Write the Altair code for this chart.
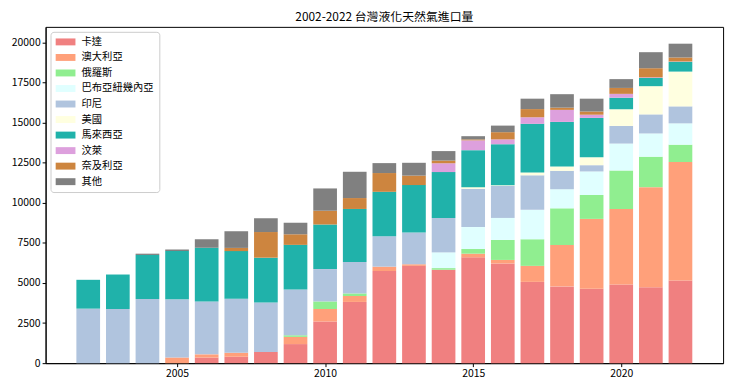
import altair as alt
import pandas as pd

years = list(range(2002, 2023))
categories = ["卡達", "澳大利亞", "俄羅斯", "巴布亞紐幾內亞", "印尼", "美國", "馬來西亞", "汶萊", "奈及利亞", "其他"]
colors = ["#F08080", "#FFA07A", "#90EE90", "#E0FFFF", "#B0C4DE", "#FFFFE0", "#20B2AA", "#DDA0DD", "#CD853F", "#808080"]

qatar     = [0, 0, 0, 0, 350, 400, 700, 1190, 2600, 3820, 5750, 6070, 5830, 6600, 6220, 5070, 4790, 4640, 4910, 4740, 5150]
australia = [0, 0, 0, 350, 200, 250, 0, 450, 780, 370, 270, 100, 0, 230, 220, 1000, 2580, 4360, 4700, 6240, 7400]
russia    = [0, 0, 0, 0, 0, 0, 0, 100, 470, 160, 0, 0, 100, 290, 1250, 1660, 2290, 1490, 2410, 1900, 1080]
png       = [0, 0, 0, 0, 0, 0, 0, 0, 0, 0, 0, 0, 980, 1370, 1370, 1840, 1190, 1470, 1680, 1450, 1330]
indonesia = [3400, 3380, 4000, 3640, 3300, 3370, 3090, 2860, 2020, 1960, 1900, 1980, 2150, 2390, 2000, 2150, 1150, 390, 1100, 1190, 1060]
usa       = [0, 0, 0, 0, 0, 0, 0, 0, 0, 0, 0, 0, 0, 100, 40, 180, 270, 490, 1040, 1760, 2170]
malaysia  = [1800, 2150, 2750, 3000, 3350, 2970, 2790, 2780, 2780, 3310, 2770, 2960, 2860, 2310, 2560, 3030, 2780, 2460, 720, 510, 610]
brunei    = [0, 0, 0, 0, 0, 0, 0, 0, 0, 0, 0, 0, 550, 610, 300, 410, 750, 200, 240, 40, 20]
nigeria   = [0, 0, 0, 0, 0, 200, 1600, 660, 860, 680, 1170, 590, 170, 60, 450, 510, 140, 200, 370, 570, 250]
others    = [0, 0, 80, 100, 530, 1040, 860, 720, 1390, 1640, 620, 800, 590, 200, 410, 650, 840, 800, 550, 1000, 860]

series = [qatar, australia, russia, png, indonesia, usa, malaysia, brunei, nigeria, others]

rows = []
for ci, (cat, vals) in enumerate(zip(categories, series)):
    for y, v in zip(years, vals):
        rows.append({"year": y, "country": cat, "value": v, "order": ci})
df = pd.DataFrame(rows)

FONT = "Noto Sans CJK TC"

bars = (
    alt.Chart(df)
    .transform_stack(stack="value", as_=["y0", "y1"], groupby=["year"], sort=[alt.SortField("order", order="ascending")])
    .transform_calculate(x0="datum.year - 0.4", x1="datum.year + 0.4")
    .mark_bar()
    .encode(
        x=alt.X("x0:Q", title=None,
                scale=alt.Scale(domain=[2000.56, 2023.44], nice=False, zero=False),
                axis=alt.Axis(values=[2005, 2010, 2015, 2020], format="d", grid=False)),
        x2="x1:Q",
        y=alt.Y("y0:Q", title=None,
                scale=alt.Scale(domain=[0, 20979], nice=False),
                axis=alt.Axis(values=list(range(0, 20001, 2500)), format="d", grid=False)),
        y2="y1:Q",
        color=alt.Color("country:N",
                        scale=alt.Scale(domain=categories, range=colors),
                        legend=alt.Legend(title=None, orient="top-left", offset=5,
                                          symbolType="M-1,-0.7 L3,-0.7 L3,0.7 L-1,0.7 Z",
                                          symbolSize=100, symbolStrokeWidth=0,
                                          labelOffset=16, rowPadding=4.7,
                                          padding=5, fillColor="white",
                                          strokeColor="#cccccc", cornerRadius=3,
                                          labelFontSize=10.4, labelFont=FONT, labelColor="black")),
        order=alt.Order("order:Q"),
    )
)

chart = (
    bars.properties(
        width=685, height=340,
        title=alt.TitleParams("2002-2022 台灣液化天然氣進口量", font=FONT, fontSize=12,
                              fontWeight="normal", color="black", offset=3),
        autosize=alt.AutoSizeParams(type="none"),
        padding={"left": 38, "top": 17, "right": 9, "bottom": 20},
    )
    .configure_view(stroke="black", strokeWidth=1)
    .configure_axis(domainColor="black", tickColor="black", tickSize=3.5,
                    labelFont=FONT, labelFontSize=10.5, labelColor="black", labelPadding=2)
)

chart.save("out.html", embed_options={"renderer": "svg", "actions": False})
